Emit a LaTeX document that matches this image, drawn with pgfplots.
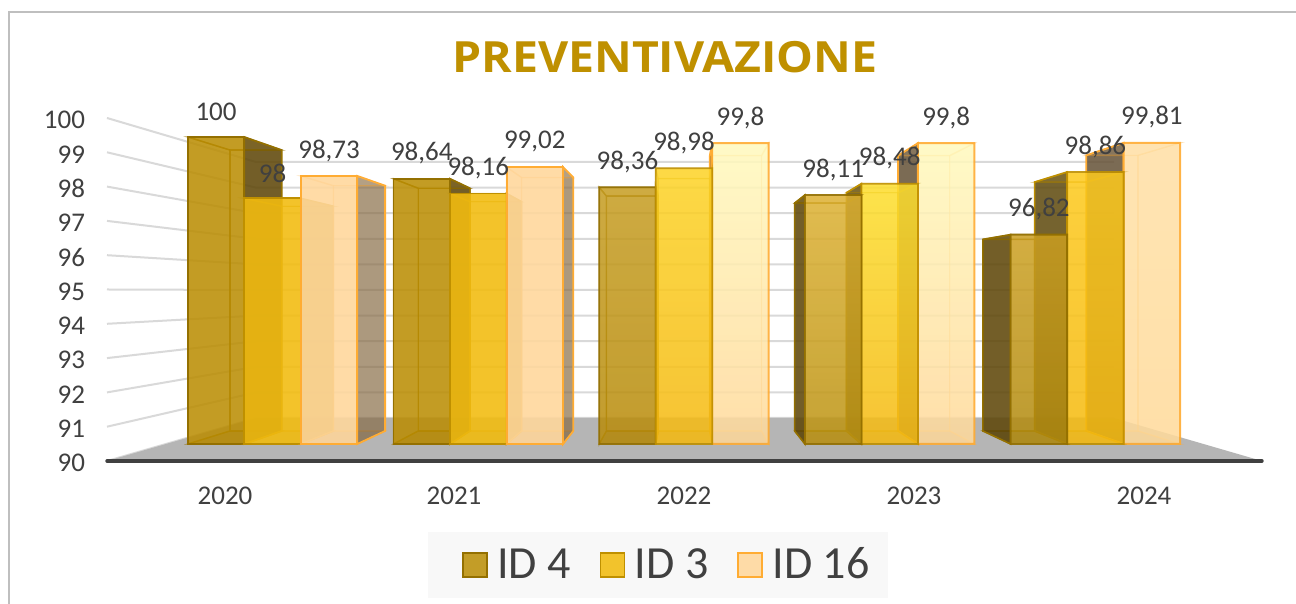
\documentclass[border=0pt]{standalone}
\usepackage{fontspec}
\setmainfont{Carlito}
\newfontfamily\titlefont[FakeStretch=1.08]{Open Sans}
\usepackage{pgfplots}
\usepackage{pgfplotstable}
\pgfplotsset{compat=1.18}
\definecolor{txt}{HTML}{404040}
\definecolor{titlec}{HTML}{BF9000}
\definecolor{gridc}{HTML}{D9D9D9}
\definecolor{floorc}{HTML}{B5B5B5}
\definecolor{frame}{HTML}{BFBFBF}
\definecolor{legbg}{HTML}{F8F8F8}
\definecolor{aF}{HTML}{BA8C00}\definecolor{aE}{HTML}{947000}\definecolor{aS}{HTML}{5C4508}
\definecolor{bF}{HTML}{F2BC10}\definecolor{bE}{HTML}{BF9000}\definecolor{bS}{HTML}{B08800}
\definecolor{cF}{HTML}{FFD79C}\definecolor{cE}{HTML}{FFAC33}\definecolor{cS}{HTML}{806540}
\definecolor{bD}{HTML}{5E4A10}\definecolor{cD}{HTML}{655238}
% gradient colours
\definecolor{g2aT}{HTML}{C8A028}\definecolor{g2aB}{HTML}{B88C0C}
\definecolor{g2bT}{HTML}{FFD82C}\definecolor{g2bB}{HTML}{F6BA14}
\definecolor{g2cT}{HTML}{FFFFC4}\definecolor{g2cB}{HTML}{FFDA9C}
\definecolor{g3aT}{HTML}{E4B83C}\definecolor{g3aB}{HTML}{BC9414}
\definecolor{g3bT}{HTML}{FFE434}\definecolor{g3bB}{HTML}{F6BA14}
\definecolor{g4aT}{HTML}{D0A428}\definecolor{g4aB}{HTML}{B08A10}
\definecolor{g4bT}{HTML}{FFCC20}\definecolor{g4bB}{HTML}{F6BA10}
\definecolor{g4cT}{HTML}{FFE2A8}\definecolor{g4cB}{HTML}{FFDC9C}
\pgfplotsset{
  aface/.style={draw=aE,line width=.9pt,fill=aF,fill opacity=.84},
  bface/.style={draw=bE,line width=.9pt,fill=bF,fill opacity=.88},
  cface/.style={draw=cE,line width=1pt,fill=cF,fill opacity=.88},
  aback/.style={draw=aE,line width=.7pt,draw opacity=.7,fill=aF,fill opacity=.1},
  bback/.style={draw=bE,line width=.7pt,draw opacity=.4,fill=bF,fill opacity=.1},
  cback/.style={draw=cE,line width=.7pt,draw opacity=.35,fill=cF,fill opacity=.1},
  aside/.style={draw=aE,line width=.8pt,fill=aS,fill opacity=.85},
  bside/.style={draw=bE,line width=.8pt,fill=bS,fill opacity=.85},
  cside/.style={draw=cE,line width=.9pt,fill=cS,fill opacity=.65},
  asideL/.style={aside},
  bsideL/.style={draw=bE,line width=.8pt,fill=bD,fill opacity=.85},
  csideL/.style={draw=cE,line width=.9pt,fill=cD,fill opacity=.85},
  aflat/.style={draw=aE,line width=.6pt,draw opacity=.7,fill=aS,fill opacity=.25},
  bflat/.style={draw=bE,line width=.6pt,draw opacity=.5,fill=bS,fill opacity=.2},
  cflat/.style={draw=cE,line width=.6pt,draw opacity=.4,fill=cS,fill opacity=.12},
  glass/.style={
    execute at begin plot visualization={\begin{scope}[transparency group,opacity=.86]},
    execute at end plot visualization={\end{scope}}},
}
\pgfplotstableread{
x   ID4    ID3    ID16
0   100    98     98.73
1   98.64  98.16  99.02
2   98.36  98.98  99.8
3   98.11  98.48  99.8
4   96.82  98.86  99.81
}\preventdata
\def\bw{0.2747}
\def\kk{0.915}
% #1 group, #2 shift, #3 value, #4 series a/b/c, #5 front style
\newcommand{\onebar}[5]{%
  \pgfmathsetmacro\xa{#1+(#2-.5)*\bw}%
  \pgfmathsetmacro\xb{#1+(#2+.5)*\bw}%
  \pgfmathsetmacro\xc{2+\kk*(\xa-2)}%
  \pgfmathsetmacro\xd{2+\kk*(\xb-2)}%
  \pgfmathsetmacro\yt{95+\kk*(#3-95)}%
  \pgfmathsetmacro\yo{95+\kk*(90-95)}%
  \pgfmathsetmacro\sh{#2*\bw}%
  \pgfmathparse{\xb<2?1:0}\edef\rvis{\pgfmathresult}%
  \pgfmathparse{\xa>2?1:0}\edef\lvis{\pgfmathresult}%
  \ifnum\rvis=1 \edef\Rs{#4side}\else\edef\Rs{#4back}\fi
  \ifnum\lvis=1 \edef\Ls{#4sideL}\else\edef\Ls{#4back}\fi
  \edef\tmp{\noexpand\addplot[forget plot,#4back] coordinates {(\xc,\yo)(\xc,\yt)(\xd,\yt)(\xd,\yo)} -- cycle;
  \noexpand\addplot[forget plot,#4flat] coordinates {(\xa,90)(\xc,\yo)(\xd,\yo)(\xb,90)} -- cycle;
  \noexpand\addplot[forget plot,\Ls] coordinates {(\xa,90)(\xa,#3)(\xc,\yt)(\xc,\yo)} -- cycle;
  \noexpand\addplot[forget plot,\Rs] coordinates {(\xb,90)(\xb,#3)(\xd,\yt)(\xd,\yo)} -- cycle;
  \noexpand\addplot[forget plot,#4back] coordinates {(\xa,#3)(\xc,\yt)(\xd,\yt)(\xb,#3)} -- cycle;
  \noexpand\addplot[forget plot,ybar,bar width=\bw,bar shift=\sh,#4face,#5] coordinates {(#1,#3)};}%
  \tmp
}
\begin{document}
\begin{tikzpicture}[x=1pt,y=1pt]
\useasboundingbox (0,0) rectangle (648,302);
\fill[white] (0,0) rectangle (648,302);
\draw[frame,line width=.7pt] (4.5,0) -- (4.5,296) -- (648,296);
\node[font=\fontsize{21.5}{24}\selectfont\titlefont\bfseries,text=titlec,anchor=center] at (332.5,273.5) {PREVENTIVAZIONE};
\begin{axis}[
  at={(53.5pt,71.5pt)},anchor=south west,
  scale only axis,width=577.5pt,height=171.5pt,
  xmin=107,xmax=1262,ymin=90,ymax=100,clip=false,
  axis line style={draw=none},major tick length=0pt,
  xtick={225,454,684,914,1144},xticklabels={2020,2021,2022,2023,2024},
  ytick={90,91,...,100},
  /pgf/number format/assume math mode=true,
  tick label style={text=txt},
  yticklabel style={font=\fontsize{13.5}{16}\selectfont,xshift=-7.5pt,yshift=-1pt},
  xticklabel style={font=\fontsize{13.5}{15}\selectfont,yshift=-9.5pt},
  legend columns=-1,
  legend style={at={(0.4879,-0.303)},anchor=center,draw=none,fill=none,
    font=\fontsize{23}{26}\selectfont,text=txt,
    nodes={inner xsep=4.8pt},
    /tikz/every even column/.append style={column sep=9.5pt}},
  legend image code/.code={\draw[#1] (0pt,-6pt) rectangle (12pt,6pt);},
]
\fill[legbg] (axis cs:428,86.0) rectangle (axis cs:888,87.93);
\pgfplotsinvokeforeach{0,...,10}{%
  \draw[gridc,line width=1pt] (axis cs:107,90+#1) -- (axis cs:256,{91.254+.7463*#1}) -- (axis cs:1114,{91.254+.7463*#1});
}
\fill[floorc] (axis cs:107,90) -- (axis cs:256,91.254) -- (axis cs:1114,91.254) -- (axis cs:1262,90) -- cycle;
\draw[txt,line width=1.7pt,line cap=round] (axis cs:107,90) -- (axis cs:1262,90);
\addlegendimage{draw=aE,line width=.9pt,fill=aF,fill opacity=.84}
\addlegendentry{ID 4}
\addlegendimage{draw=bE,line width=.9pt,fill=bF,fill opacity=.88}
\addlegendentry{ID 3}
\addlegendimage{draw=cE,line width=.9pt,fill=cF,fill opacity=.88}
\addlegendentry{ID 16}
\end{axis}
\begin{axis}[
  at={(53.5pt,80pt)},anchor=south west,
  scale only axis,width=577.5pt,height=153.5pt,
  xmin=-0.805,xmax=4.81,ymin=90,ymax=100,clip=false,hide axis,
  /pgf/number format/assume math mode=true,
]
\onebar{0}{-1}{100}{a}{}
\onebar{0}{0}{98}{b}{}
\onebar{0}{1}{98.73}{c}{}
\onebar{1}{-1}{98.64}{a}{}
\onebar{1}{0}{98.16}{b}{}
\onebar{1}{1}{99.02}{c}{}
\onebar{4}{1}{99.81}{c}{glass,shade,top color=g4cT,bottom color=g4cB}
\onebar{4}{0}{98.86}{b}{glass,shade,top color=g4bT,bottom color=g4bB}
\onebar{4}{-1}{96.82}{a}{glass,shade,top color=g4aT,bottom color=g4aB}
\onebar{3}{1}{99.8}{c}{glass,shade,top color=g2cT,bottom color=g2cB}
\onebar{3}{0}{98.48}{b}{glass,shade,top color=g3bT,bottom color=g3bB}
\onebar{3}{-1}{98.11}{a}{glass,shade,top color=g3aT,bottom color=g3aB}
\onebar{2}{-1}{98.36}{a}{glass,shade,top color=g2aT,bottom color=g2aB}
\onebar{2}{1}{99.8}{c}{glass,shade,top color=g2cT,bottom color=g2cB}
\onebar{2}{0}{98.98}{b}{glass,shade,top color=g2bT,bottom color=g2bB}
\pgfplotsset{lab/.style={forget plot,only marks,mark=none,point meta=y,
  nodes near coords,
  nodes near coords style={anchor=center,yshift=12.7pt,text=txt,font=\fontsize{13.5}{15}\selectfont,
    /pgf/number format/.cd,fixed,precision=2,use comma,assume math mode=true}}}
\addplot[lab] table[x expr=\thisrow{x}-\bw,y=ID4] {\preventdata};
\addplot[lab] table[x=x,y=ID3] {\preventdata};
\addplot[lab] table[x expr=\thisrow{x}+\bw,y=ID16] {\preventdata};
\end{axis}
\end{tikzpicture}
\end{document}
